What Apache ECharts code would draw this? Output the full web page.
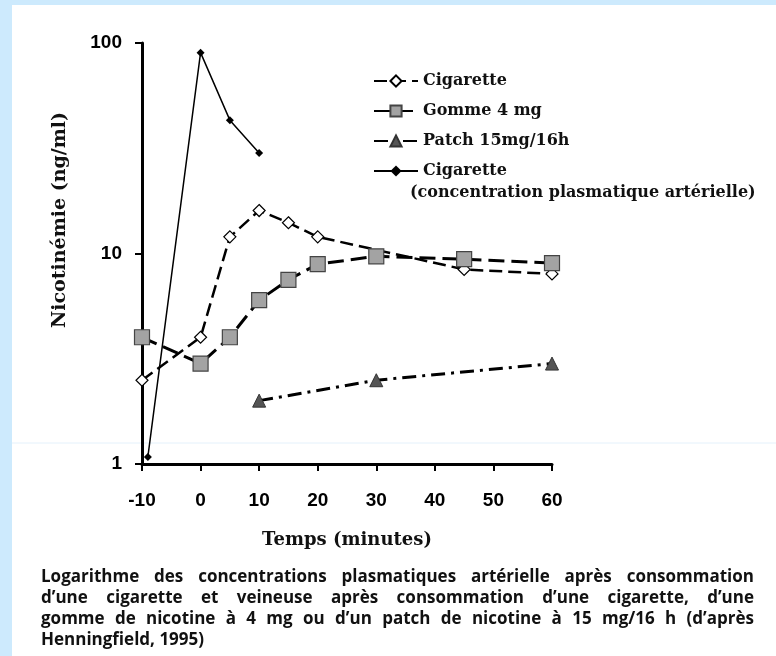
<!DOCTYPE html>
<html>
<head>
<meta charset="utf-8">
<script src="https://cdn.jsdelivr.net/npm/echarts@6/dist/echarts.min.js"></script>
<style>
  html, body { margin: 0; padding: 0; background: #fff; }
  #chart { width: 776px; height: 656px; }
</style>
</head>
<body>
<div id="chart"></div>
<script>
// données (temps en minutes, nicotinémie en ng/ml)
var veineuseX = [-10, 0, 5, 10, 15, 20, 45, 60];
var veineuse = [2.5, 4, 12, 16, 14, 12, 8.4, 8];
var gommeX = [-10, 0, 5, 10, 15, 20, 30, 45, 60];
var gomme = [4, 3, 4, 6, 7.5, 8.9, 9.7, 9.4, 9];
var patchX = [10, 30, 60];
var patch = [2, 2.5, 3];
var arterielleX = [-9, 0, 5, 10];
var arterielle = [1.08, 90, 43, 30];

var noms = ['Cigarette', 'Gomme 4 mg', 'Patch 15mg/16h', 'Cigarette (concentration plasmatique artérielle)'];

var legende = [
  'Logarithme des concentrations plasmatiques artérielle après consommation',
  'd’une cigarette et veineuse après consommation d’une cigarette, d’une',
  'gomme de nicotine à 4 mg ou d’un patch de nicotine à 15 mg/16 h (d’après',
  'Henningfield, 1995)'
];

function paires(xs, ys) {
  return xs.map(function (x, i) { return [x, ys[i]]; });
}

var serif = '"DejaVu Serif", "Liberation Serif", serif';
var sans = '"Liberation Sans", Arial, sans-serif';
var captionFont = 'bold 17px "Open Sans", Lato, sans-serif';

// texte justifié : un élément par mot
var ctx = document.createElement('canvas').getContext('2d');
ctx.font = captionFont;
var captionEls = [];
legende.forEach(function (ligne, i) {
  var mots = ligne.split(' ');
  var y = 577 + i * 21;
  var x0 = 41, x1 = 754;
  var derniere = i === legende.length - 1;
  var largeurs = mots.map(function (m) { return ctx.measureText(m).width; });
  var total = largeurs.reduce(function (a, b) { return a + b; }, 0);
  var gap = derniere ? ctx.measureText(' ').width : (x1 - x0 - total) / (mots.length - 1);
  var x = x0;
  mots.forEach(function (m, j) {
    captionEls.push({
      type: 'text', x: x, y: y, silent: true,
      style: { text: m, font: captionFont, fill: '#111', textVerticalAlign: 'middle' }
    });
    x += largeurs[j] + gap;
  });
});

var chart = echarts.init(document.getElementById('chart'));

var option = {
  backgroundColor: '#fff',
  animation: false,
  grid: { left: 142, right: 224, top: 43, bottom: 192, containLabel: false },
  legend: {
    orient: 'vertical',
    left: 368, top: 66,
    itemWidth: 44, itemHeight: 14, itemGap: 10,
    data: noms,
    formatter: function (n) { return n === noms[3] ? 'Cigarette' : n; },
    textStyle: { fontFamily: serif, fontWeight: 'bold', fontSize: 16, color: '#111', lineHeight: 20 }
  },
  xAxis: {
    type: 'value', min: -10, max: 60, interval: 10,
    name: 'Temps (minutes)', nameLocation: 'middle', nameGap: 67,
    nameTextStyle: { fontFamily: serif, fontWeight: 'bold', fontSize: 18, color: '#111' },
    axisLine: { onZero: false, lineStyle: { color: '#000', width: 3 } },
    axisTick: { length: 7, lineStyle: { color: '#000', width: 2 } },
    axisLabel: { margin: 27, fontFamily: sans, fontWeight: 'bold', fontSize: 19, color: '#000' },
    splitLine: { show: false }
  },
  yAxis: {
    type: 'log', logBase: 10, min: 1, max: 100,
    axisLine: { show: true, onZero: false, lineStyle: { color: '#000', width: 3 } },
    axisTick: { show: true, length: 7, lineStyle: { color: '#000', width: 2 } },
    axisLabel: { margin: 20, fontFamily: sans, fontWeight: 'bold', fontSize: 19, color: '#000' },
    minorTick: { show: false },
    splitLine: { show: false }
  },
  graphic: [
    { type: 'rect', shape: { x: 0, y: 0, width: 12, height: 656 }, style: { fill: '#cdeafd' }, silent: true },
    { type: 'rect', shape: { x: 0, y: 0, width: 776, height: 5 }, style: { fill: '#cdeafd' }, silent: true },
    { type: 'line', shape: { x1: 12, y1: 443, x2: 776, y2: 443 }, style: { stroke: '#e4f1fb', lineWidth: 1 }, silent: true, z: -1 },
    {
      type: 'text', x: 60, y: 220, rotation: Math.PI / 2, silent: true,
      style: { text: 'Nicotinémie (ng/ml)', font: 'bold 19px ' + serif, fill: '#111', textAlign: 'center', textVerticalAlign: 'middle' }
    },
    {
      type: 'text', x: 410, y: 193, silent: true,
      style: { text: '(concentration plasmatique artérielle)', font: 'bold 16px ' + serif, fill: '#111', textVerticalAlign: 'middle' }
    }
  ].concat(captionEls),
  series: [
    {
      name: noms[0], type: 'line', data: paires(veineuseX, veineuse),
      symbol: 'diamond', symbolSize: 12,
      lineStyle: { color: '#000', width: 2.5, type: [13, 6] },
      itemStyle: { color: '#fff', borderColor: '#000', borderWidth: 1.2 }
    },
    {
      name: noms[1], type: 'line', data: paires(gommeX, gomme),
      symbol: 'rect', symbolSize: 15,
      lineStyle: { color: '#000', width: 3, type: [16, 7] },
      itemStyle: { color: '#a3a3a3', borderColor: '#444', borderWidth: 1.2 }
    },
    {
      name: noms[2], type: 'line', data: paires(patchX, patch),
      symbol: 'triangle', symbolSize: 13,
      lineStyle: { color: '#000', width: 3, type: [14, 6, 3, 6] },
      itemStyle: { color: '#555', borderColor: '#333', borderWidth: 1 }
    },
    {
      name: noms[3], type: 'line', data: paires(arterielleX, arterielle),
      symbol: 'diamond', symbolSize: 8,
      lineStyle: { color: '#000', width: 1.5 },
      itemStyle: { color: '#000' }
    }
  ]
};

chart.setOption(option);
</script>
</body>
</html>
